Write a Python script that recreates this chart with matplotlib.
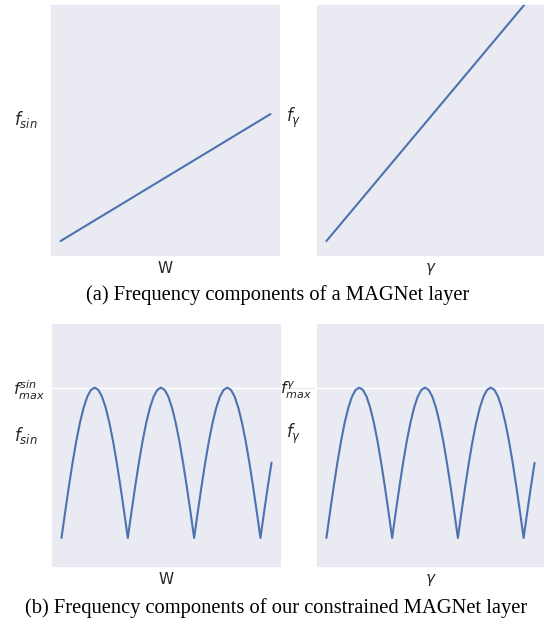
import matplotlib
matplotlib.use("Agg")
import matplotlib.pyplot as plt
import seaborn as sns
from matplotlib.lines import Line2D

# ---- data ----
lin_x = [0.0, 1.0]
lin_w_y = [0.063, 0.565]
lin_g_y = [0.063, 1.045]

phase_deg = list(range(0, 571, 10))
hump = [0.000, 0.174, 0.342, 0.500, 0.643, 0.766, 0.866, 0.940, 0.985,
        1.000, 0.985, 0.940, 0.866, 0.766, 0.643, 0.500, 0.342, 0.174]
wave_y = hump * 3 + [0.000, 0.174, 0.342, 0.500]
fmax = 1.0

top_xlabels = ["W", r"$\gamma$"]
top_ylabels = [r"$f_{sin}$", r"$f_{\gamma}$"]
max_labels = [r"$f^{sin}_{max}$", r"$f^{\gamma}_{max}$"]
captions = ["(a) Frequency components of a MAGNet layer",
            "(b) Frequency components of our constrained MAGNet layer"]

sns.set_theme(style="darkgrid")
color = sns.color_palette()[0]

fig = plt.figure(figsize=(5.45, 6.22), dpi=100)
W, H = 545.0, 622.0

def axpos(x0, y0, x1, y1):
    return [x0 / W, 1 - y1 / H, (x1 - x0) / W, (y1 - y0) / H]

ax_tl = fig.add_axes(axpos(50, 4, 281, 257))
ax_tr = fig.add_axes(axpos(316, 4, 545, 257))
ax_bl = fig.add_axes(axpos(51, 323, 282, 568))
ax_br = fig.add_axes(axpos(316, 323, 545, 568))

for ax, ys, xl, yl, lx in [(ax_tl, lin_w_y, top_xlabels[0], top_ylabels[0], -0.104),
                           (ax_tr, lin_g_y, top_xlabels[1], top_ylabels[1], -0.098)]:
    ax.plot(lin_x, ys, color=color, lw=1.5)
    ax.set_ylim(0, 1)
    ax.set_xticks([])
    ax.set_yticks([])
    ax.set_xlabel(xl, fontsize=11, labelpad=3)
    ax.set_ylabel(yl, fontsize=12, rotation=0, ha="center", va="bottom")
    ax.yaxis.set_label_coords(lx, 0.5)

for ax, xl, yl, ml, lx, pd in [(ax_bl, top_xlabels[0], top_ylabels[0], max_labels[0], -0.108, 4.5),
                               (ax_br, top_xlabels[1], top_ylabels[1], max_labels[1], -0.098, 3)]:
    ax.plot(phase_deg, wave_y, color=color, lw=1.5)
    ax.set_ylim(-0.2, 1.43)
    ax.set_xticks([])
    ax.set_yticks([fmax])
    ax.set_yticklabels([ml], fontsize=11.5)
    ax.tick_params(axis="y", length=0, pad=pd)
    ax.set_xlabel(xl, fontsize=11, labelpad=3)
    ax.set_ylabel(yl, fontsize=12, rotation=0, ha="center", va="bottom")
    ax.yaxis.set_label_coords(lx, 0.5)

# faint connecting line between the lower panels at f_max level
fig.add_artist(Line2D([282 / W, 316 / W], [1 - 388 / H, 1 - 388 / H],
                      color="#ebebeb", lw=0.8, zorder=0))

fig.text(0.509, 1 - 295 / H, captions[0], ha="center", va="center",
         fontsize=14.8, family="Liberation Serif", color="black")
fig.text(0.507, 1 - 608 / H, captions[1], ha="center", va="center",
         fontsize=14.8, family="Liberation Serif", color="black")

fig.savefig("out.png", dpi=100)
